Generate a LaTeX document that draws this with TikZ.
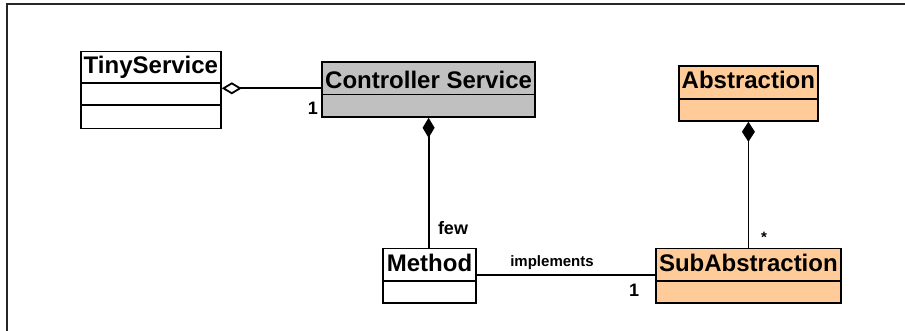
\documentclass[tikz,border=0pt]{standalone}
\usepackage{fontspec}
\setmainfont{Liberation Sans}
\usetikzlibrary{arrows.meta}
\definecolor{peach}{RGB}{255,204,153}
\definecolor{ctrlgray}{RGB}{192,192,192}
\begin{document}
\begin{tikzpicture}[x=1pt,y=-1pt,
  box/.style={draw=black, line width=1.8pt, inner sep=0pt, anchor=north west},
  title/.style={font=\fontsize{24}{28}\selectfont\bfseries, inner sep=0pt, anchor=base},
  lbl/.style={font=\fontsize{18}{21}\selectfont\bfseries, inner sep=0pt, anchor=base},
  smalllbl/.style={font=\fontsize{15}{18}\selectfont\bfseries, inner sep=0pt, anchor=base},
  link/.style={line width=1.8pt, draw=black},
  divider/.style={line width=1.8pt, draw=black},
]
\useasboundingbox (0,0) rectangle (905,331);

% outer frame (top and left edges)
\draw[line width=1.5pt, draw=black!85] (7,331) -- (7,4) -- (905,4);

% TinyService class: title plus two empty compartments
\node[box, fill=white, minimum width=140pt, minimum height=77pt] (ts) at (80,50.7) {};
\draw[divider] ([yshift=-32pt]ts.north west) -- ([yshift=-32pt]ts.north east);
\draw[divider] ([yshift=-54pt]ts.north west) -- ([yshift=-54pt]ts.north east);
\node[title] (tsname) at ([yshift=-22.6pt]ts.north) {TinyService};

% Controller Service class
\node[box, fill=ctrlgray, minimum width=212.6pt, minimum height=55pt] (cs) at (321.4,61) {};
\draw[divider] ([yshift=-33.5pt]cs.north west) -- ([yshift=-33.5pt]cs.north east);
\node[title] (csname) at ([yshift=-27.3pt]cs.north) {Controller Service};

% Method class
\node[box, fill=white, minimum width=92.7pt, minimum height=54.3pt] (meth) at (382.3,247.7) {};
\draw[divider] ([yshift=-33.3pt]meth.north west) -- ([yshift=-33.3pt]meth.north east);
\node[title] (methname) at ([yshift=-24pt]meth.north) {Method};

% Abstraction class
\node[box, fill=peach, minimum width=139pt, minimum height=55pt] (abs) at (678,65) {};
\draw[divider] ([yshift=-34pt]abs.north west) -- ([yshift=-34pt]abs.north east);
\node[title] (absname) at ([yshift=-23.3pt]abs.north) {Abstraction};

% SubAbstraction class
\node[box, fill=peach, minimum width=185pt, minimum height=54.3pt] (sub) at (655,247.7) {};
\draw[divider] ([yshift=-33.3pt]sub.north west) -- ([yshift=-33.3pt]sub.north east);
\node[title] (subname) at ([yshift=-24pt]sub.north) {SubAbstraction};

% aggregation: TinyService <>-- Controller Service
\draw[link, {Diamond[open, fill=white, length=20pt, width=12pt]}-]
  ([yshift=-37.6pt]ts.north east) -- ([yshift=-27.3pt]cs.north west);
\node[lbl] (mult1) at (313,115) {1};

% composition: Controller Service <#>-- Method
\draw[link, {Diamond[length=20pt, width=12pt]}-] (cs.south) -- (cs.south |- meth.north);
\node[lbl] (fewlbl) at (453,235) {few};

% composition: Abstraction <#>-- SubAbstraction
\draw[link, {Diamond[length=20pt, width=13pt]}-] (abs.south) -- (abs.south |- sub.north);
\node[smalllbl] (starlbl) at (764,243) {*};

% association: Method -- SubAbstraction
\draw[link] ([yshift=-27.3pt]meth.north east) -- ([yshift=-27.3pt]sub.north west);
\node[smalllbl] (impl) at (552,266) {implements};
\node[lbl] (mult2) at (634,296.5) {1};
\end{tikzpicture}
\end{document}
